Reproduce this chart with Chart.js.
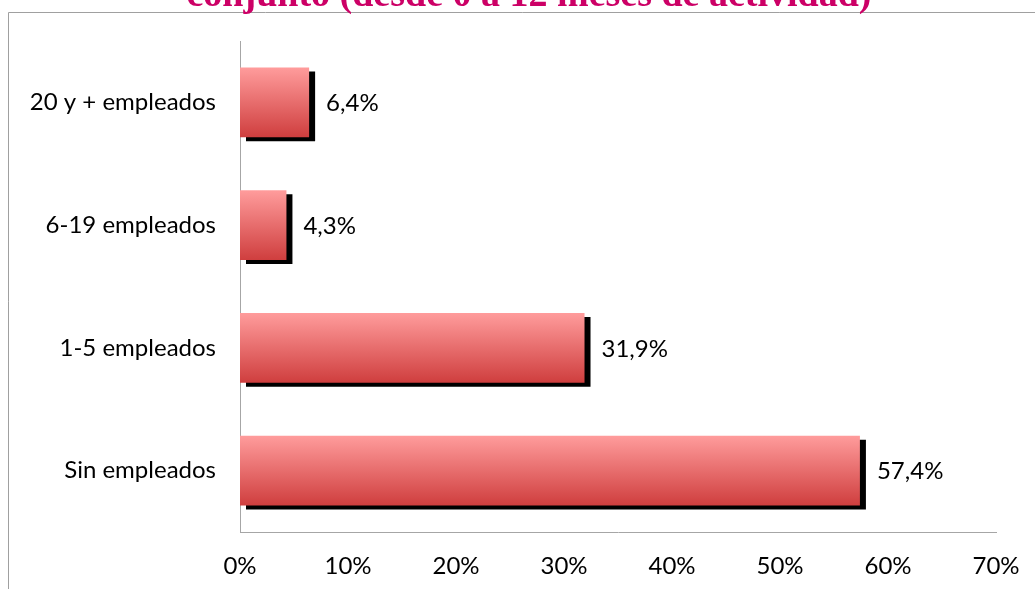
<!DOCTYPE html>
<html>
<head>
<meta charset="utf-8">
<script src="https://cdn.jsdelivr.net/npm/chart.js@4"></script>
<style>
html,body{margin:0;padding:0;background:#fff;}
#wrap{width:1035px;height:589px;position:relative;}
</style>
</head>
<body>
<div id="wrap"><canvas id="c" width="1035" height="589"></canvas></div>
<script>
const categories = ["20 y + empleados", "6-19 empleados", "1-5 empleados", "Sin empleados"];
const values = [6.4, 4.3, 31.9, 57.4];
const xTicks = [0, 10, 20, 30, 40, 50, 60, 70];
const titleText = "conjunto (desde 0 a 12 meses de actividad)";

const fmt = v => v.toFixed(1).replace('.', ',') + '%';
const FONT = 'Lato, "Open Sans", sans-serif';

const frame = {
  id: 'frame',
  beforeDraw(chart) {
    const ctx = chart.ctx;
    ctx.save();
    ctx.fillStyle = '#fff';
    ctx.fillRect(0, 0, chart.width, chart.height);
    ctx.strokeStyle = '#a0a0a0';
    ctx.lineWidth = 1;
    ctx.beginPath();
    ctx.moveTo(8.5, 600);
    ctx.lineTo(8.5, 12.5);
    ctx.lineTo(1040, 12.5);
    ctx.stroke();
    ctx.fillStyle = '#CC0066';
    ctx.font = 'bold 38px "Liberation Serif", serif';
    ctx.textAlign = 'center';
    ctx.textBaseline = 'alphabetic';
    ctx.fillText(titleText, 529, 6);
    ctx.restore();
  }
};

const shadow = {
  id: 'shadow',
  beforeDatasetsDraw(chart) {
    const ctx = chart.ctx;
    ctx.save();
    ctx.shadowColor = '#000';
    ctx.shadowOffsetX = 6;
    ctx.shadowOffsetY = 4;
    ctx.shadowBlur = 0;
  },
  afterDatasetsDraw(chart) {
    chart.ctx.restore();
    const ctx = chart.ctx;
    ctx.save();
    ctx.fillStyle = '#000';
    ctx.font = '24px ' + FONT;
    ctx.textAlign = 'left';
    ctx.textBaseline = 'middle';
    chart.getDatasetMeta(0).data.forEach((el, i) => {
      ctx.fillText(fmt(values[i]), el.x + 17, el.y + 1);
    });
    ctx.restore();
  }
};

new Chart(document.getElementById('c'), {
  type: 'bar',
  data: {
    labels: categories,
    datasets: [{
      data: values,
      borderWidth: 0,
      backgroundColor(context) {
        const chart = context.chart;
        if (!chart.chartArea || !chart.scales.y) return '#e86a6a';
        const y = chart.scales.y.getPixelForValue(context.dataIndex);
        const g = chart.ctx.createLinearGradient(0, y - 35, 0, y + 35);
        g.addColorStop(0, '#FF9C9C');
        g.addColorStop(1, '#CF3E3E');
        return g;
      },
      categoryPercentage: 1,
      barPercentage: 0.57
    }]
  },
  options: {
    indexAxis: 'y',
    responsive: false,
    animation: false,
    layout: { padding: { top: 41, right: 39, left: 0, bottom: 0 } },
    plugins: { legend: { display: false }, tooltip: { enabled: false }, title: { display: false } },
    scales: {
      x: {
        min: 0, max: 70,
        afterBuildTicks(scale) { scale.ticks = xTicks.map(v => ({ value: v })); },
        afterFit(scale) { scale.height = 57; scale.paddingRight = 0; scale.paddingLeft = 0; },
        grid: { display: false, drawTicks: false },
        border: { display: true, color: '#a6a6a6', width: 1 },
        ticks: {
          callback: v => v + '%',
          color: '#000',
          padding: 20,
          font: { family: FONT, size: 24 }
        }
      },
      y: {
        afterFit(scale) { scale.width = 240; scale.paddingTop = 0; scale.paddingBottom = 0; },
        grid: { display: false, drawTicks: false },
        border: { display: true, color: '#a6a6a6', width: 1 },
        ticks: {
          color: '#000',
          padding: 24,
          font: { family: FONT, size: 24 }
        }
      }
    }
  },
  plugins: [frame, shadow]
});
</script>
</body>
</html>
